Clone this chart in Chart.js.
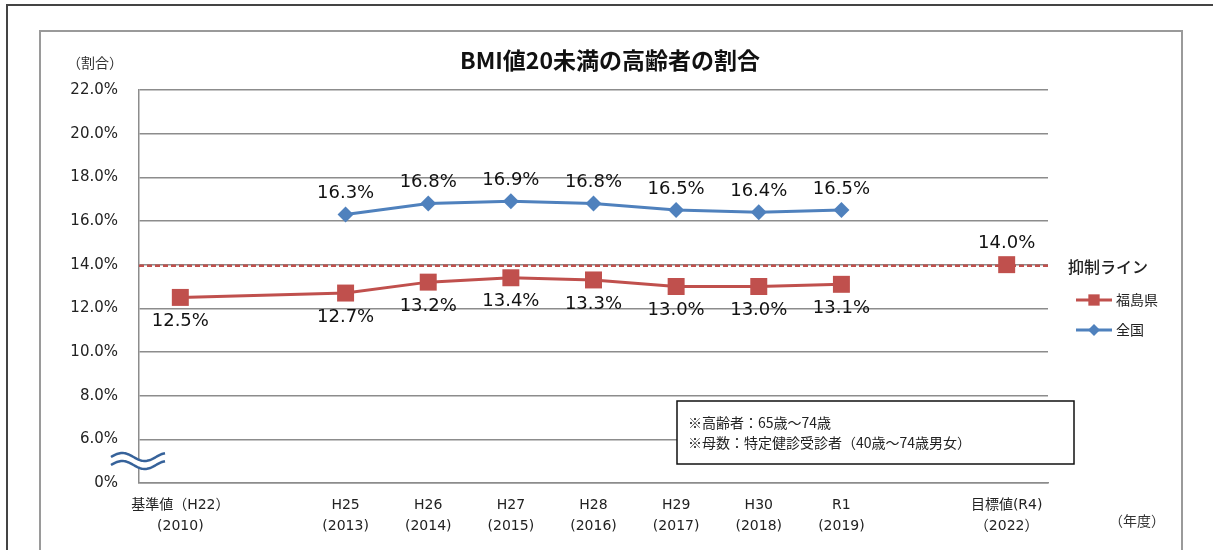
<!doctype html>
<html lang="ja">
  <head>
    <meta charset="utf-8">
    <title>BMI値20未満の高齢者の割合</title>
    <style>
      * {
        margin: 0;
        padding: 0;
      }
      body {
        background: #fff;
      }
      .chartBox {
        width: 1213px;
        height: 550px;
      }
    </style>
  </head>
  <body>
    <div class="chartBox">
      <canvas id="myChart" width="1213" height="550"></canvas>
    </div>
    <script src="https://cdn.jsdelivr.net/npm/chart.js/dist/chart.umd.min.js"></script>
    <script>
    // data
    const yearLabels = ['基準値（H22）', '', 'H25', 'H26', 'H27', 'H28', 'H29', 'H30', 'R1', '', '目標値(R4)'];
    const yearNumbers = ['(2010)', '', '(2013)', '(2014)', '(2015)', '(2016)', '(2017)', '(2018)', '(2019)', '', '（2022）'];
    const fukushima = [12.5, null, 12.7, 13.2, 13.4, 13.3, 13.0, 13.0, 13.1, null, null];
    const fukushimaTarget = [null, null, null, null, null, null, null, null, null, null, 14.0];
    const national = [null, null, 16.3, 16.8, 16.9, 16.8, 16.5, 16.4, 16.5, null, null];
    const suppressLine = 14.0;
    // bottom of the broken axis (shown as 0%)
    const axisBreakValue = 4;
    const notes = ['※高齢者：65歳～74歳', '※母数：特定健診受診者（40歳～74歳男女）'];

    const RED = '#C0504D';
    const BLUE = '#4F81BD';
    const LATIN = '"DejaVu Sans", "Noto Sans CJK JP", sans-serif';
    const CJK = '"Noto Sans CJK JP", sans-serif';

    Chart.defaults.font.family = LATIN;
    Chart.defaults.color = '#222';

    // frames, title, legend, notes, wave
    const decorPlugin = {
      id: 'decor',
      beforeDraw(chart) {
        const ctx = chart.ctx;
        ctx.save();
        ctx.fillStyle = '#fff';
        ctx.fillRect(0, 0, chart.width, chart.height);
        // outer frame
        ctx.strokeStyle = '#444';
        ctx.lineWidth = 2;
        ctx.beginPath();
        ctx.moveTo(7, 560);
        ctx.lineTo(7, 5);
        ctx.lineTo(1220, 5);
        ctx.stroke();
        // chart border
        ctx.strokeStyle = '#9a9a9a';
        ctx.strokeRect(40, 31, 1142, 560);
        ctx.restore();
      },
      beforeDatasetsDraw(chart) {
        const {ctx, chartArea, scales} = chart;
        const y = scales.y.getPixelForValue(suppressLine) + 1;
        ctx.save();
        ctx.strokeStyle = RED;
        ctx.lineWidth = 2.5;
        ctx.setLineDash([5, 3]);
        ctx.beginPath();
        ctx.moveTo(chartArea.left, y);
        ctx.lineTo(chartArea.right, y);
        ctx.stroke();
        ctx.restore();
      },
      afterDraw(chart) {
        const ctx = chart.ctx;
        ctx.save();
        // title
        ctx.fillStyle = '#111';
        ctx.textAlign = 'center';
        ctx.textBaseline = 'middle';
        ctx.font = 'bold 23px ' + CJK;
        ctx.fillText('BMI値20未満の高齢者の割合', 610, 60);
        ctx.font = '14px ' + CJK;
        ctx.fillStyle = '#333';
        ctx.fillText('（割合）', 95, 63);
        ctx.fillText('（年度）', 1137, 521);

        // legend
        ctx.textAlign = 'left';
        ctx.fillStyle = '#222';
        ctx.font = '500 16px ' + CJK;
        ctx.fillText('抑制ライン', 1068, 267);
        ctx.font = '14px ' + CJK;
        const entries = [
          {label: '福島県', color: RED, style: 'rect', r: 8, y: 300},
          {label: '全国', color: BLUE, style: 'rectRot', r: 6, y: 330}
        ];
        entries.forEach(e => {
          ctx.strokeStyle = e.color;
          ctx.lineWidth = 3;
          ctx.beginPath();
          ctx.moveTo(1076, e.y);
          ctx.lineTo(1112, e.y);
          ctx.stroke();
          ctx.fillStyle = e.color;
          Chart.helpers.drawPoint(ctx, {pointStyle: e.style, radius: e.r, borderWidth: 0}, 1094, e.y);
          ctx.fillStyle = '#222';
          ctx.fillText(e.label, 1116, e.y);
        });

        // notes box
        ctx.fillStyle = '#fff';
        ctx.fillRect(677, 401, 397, 63);
        ctx.strokeStyle = '#111';
        ctx.lineWidth = 1.5;
        ctx.strokeRect(677, 401, 397, 63);
        ctx.fillStyle = '#222';
        ctx.font = '14px ' + CJK;
        ctx.fillText(notes[0], 688, 423);
        ctx.fillText(notes[1], 688, 443);

        // axis break wave
        const wave = (dy) => {
          ctx.beginPath();
          for (let x = 111; x <= 165; x++) {
            const yy = 461 + dy - 4 * Math.sin((x - 111) / 45 * 2 * Math.PI);
            if (x === 111) ctx.moveTo(x, yy); else ctx.lineTo(x, yy);
          }
        };
        ctx.strokeStyle = '#fff';
        ctx.lineWidth = 8;
        wave(0);
        ctx.stroke();
        ctx.strokeStyle = '#36629A';
        ctx.lineWidth = 2.5;
        wave(-4);
        ctx.stroke();
        wave(4);
        ctx.stroke();
        ctx.restore();
      }
    };

    // value labels next to points
    const labelPlugin = {
      id: 'pointLabels',
      afterDatasetsDraw(chart) {
        const ctx = chart.ctx;
        ctx.save();
        ctx.font = '18px ' + LATIN;
        ctx.fillStyle = '#111';
        ctx.textAlign = 'center';
        ctx.textBaseline = 'middle';
        chart.data.datasets.forEach((ds, i) => {
          const meta = chart.getDatasetMeta(i);
          meta.data.forEach((pt, j) => {
            const v = ds.data[j];
            if (v === null) return;
            ctx.fillText(v.toFixed(1) + '%', pt.x, pt.y + ds.labelOffset);
          });
        });
        ctx.restore();
      }
    };

    const data = {
      labels: yearLabels.map((l, i) => [l, yearNumbers[i]]),
      datasets: [{
        label: '福島県',
        data: fukushima,
        borderColor: RED,
        backgroundColor: RED,
        borderWidth: 3,
        pointStyle: 'rect',
        pointRadius: 12,
        pointBorderWidth: 0,
        spanGaps: true,
        labelOffset: 24
      }, {
        label: '目標値',
        data: fukushimaTarget,
        borderColor: RED,
        backgroundColor: RED,
        pointStyle: 'rect',
        pointRadius: 12,
        pointBorderWidth: 0,
        showLine: false,
        labelOffset: -21
      }, {
        label: '全国',
        data: national,
        borderColor: BLUE,
        backgroundColor: BLUE,
        borderWidth: 3,
        pointStyle: 'rectRot',
        pointRadius: 8,
        pointBorderWidth: 0,
        spanGaps: true,
        labelOffset: -21
      }]
    };

    const config = {
      type: 'line',
      data,
      options: {
        responsive: false,
        animation: false,
        layout: {
          padding: {left: 0, right: 165, top: 90, bottom: 0}
        },
        plugins: {
          legend: {display: false},
          title: {display: false},
          tooltip: {enabled: false}
        },
        scales: {
          x: {
            offset: true,
            grid: {display: false, drawTicks: false},
            border: {display: true, color: '#8c8c8c', width: 1.5},
            ticks: {
              autoSkip: false,
              maxRotation: 0,
              padding: 12,
              color: '#222',
              font: {size: 14, lineHeight: 1.5}
            },
            afterFit(scale) { scale.height = 67; }
          },
          y: {
            min: axisBreakValue,
            max: 22,
            grid: {color: '#8c8c8c', lineWidth: 1.5, drawTicks: false},
            border: {display: true, color: '#8c8c8c', width: 1.5},
            ticks: {
              stepSize: 2,
              padding: 21,
              color: '#222',
              font: {size: 15},
              callback: v => v === axisBreakValue ? '0%' : v.toFixed(1) + '%'
            },
            afterFit(scale) { scale.width = 139; }
          }
        }
      },
      plugins: [decorPlugin, labelPlugin]
    };

    const myChart = new Chart(document.getElementById('myChart'), config);
    </script>
  </body>
</html>
